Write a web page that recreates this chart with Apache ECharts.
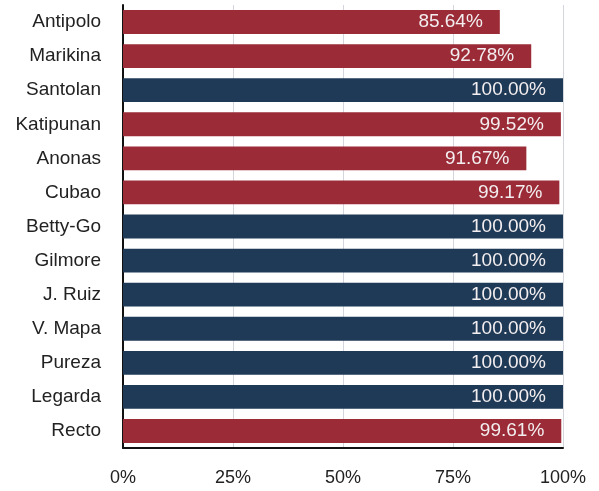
<!DOCTYPE html>
<html>
<head>
<meta charset="utf-8">
<script src="https://cdn.jsdelivr.net/npm/echarts@6/dist/echarts.min.js"></script>
<style>html,body{margin:0;padding:0;background:#fff}#c{width:599px;height:491px}</style>
</head>
<body>
<div id="c"></div>
<script>
var categories = ['Antipolo','Marikina','Santolan','Katipunan','Anonas','Cubao','Betty-Go','Gilmore','J. Ruiz','V. Mapa','Pureza','Legarda','Recto'];
var values = [85.64, 92.78, 100.00, 99.52, 91.67, 99.17, 100.00, 100.00, 100.00, 100.00, 100.00, 100.00, 99.61];
var xTicks = [0, 25, 50, 75, 100];

var RED = '#9b2b36';
var NAVY = '#1f3a56';
var FONT = 'Liberation Sans, Arial, sans-serif';
var chart = echarts.init(document.getElementById('c'));
chart.setOption({
  backgroundColor: '#ffffff',
  animation: false,
  grid: {left: 123, right: 36, top: 5, bottom: 43},
  xAxis: {
    type: 'value', min: 0, max: 100, interval: 25,
    axisLine: {show: true, lineStyle: {color: '#111', width: 2}},
    axisTick: {show: false},
    splitLine: {show: true, lineStyle: {color: '#d4d6de', width: 1}},
    axisLabel: {
      margin: 21, fontSize: 18, color: '#222', fontFamily: FONT,
      formatter: function (v) { return xTicks.indexOf(v) >= 0 ? v + '%' : ''; }
    }
  },
  yAxis: {
    type: 'category', data: categories, inverse: true,
    axisLine: {show: true, onZero: false, lineStyle: {color: '#111', width: 2}},
    axisTick: {show: false},
    axisLabel: {margin: 22, fontSize: 19, color: '#222', fontFamily: FONT}
  },
  series: [{
    type: 'bar',
    data: values,
    barWidth: '70%',
    itemStyle: {color: function (p) { return p.value >= 100 ? NAVY : RED; }},
    label: {
      show: true, position: 'insideRight', distance: 17,
      color: '#f3eef0', fontSize: 19, fontFamily: FONT,
      formatter: function (p) { return p.value.toFixed(2) + '%'; }
    }
  }]
});
</script>
</body>
</html>
